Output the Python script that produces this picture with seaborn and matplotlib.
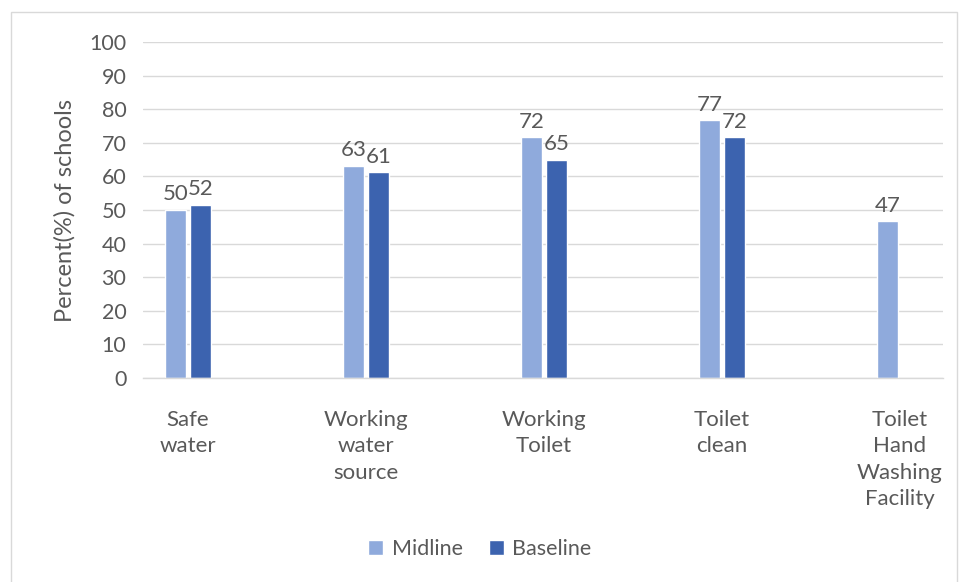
import matplotlib
matplotlib.use("Agg")
import matplotlib.pyplot as plt
import seaborn as sns
import pandas as pd
import numpy as np
from matplotlib.patches import Rectangle

categories = ["Safe\nwater", "Working\nwater\nsource", "Working\nToilet", "Toilet\nclean", "Toilet\nHand\nWashing\nFacility"]
midline = [50.0, 63.2, 71.6, 76.7, 46.6]
baseline = [51.6, 61.2, 65.0, 71.7, np.nan]
series = ["Midline", "Baseline"]
colors = ["#8FAADC", "#3C63AF"]

df = pd.DataFrame({
    "cat": categories * 2,
    "val": midline + baseline,
    "series": ["Midline"] * 5 + ["Baseline"] * 5,
})

sns.set_theme(style="white")
plt.rcParams["font.family"] = ["Lato", "DejaVu Sans"]
txt = "#595959"

fig = plt.figure(figsize=(9.6, 5.82), dpi=100)
ax = fig.add_axes([0.149, 0.3505, 0.833, 0.5773])

sns.barplot(data=df, x="cat", y="val", hue="series", order=categories,
            hue_order=series, palette=colors, width=0.28, gap=0.18,
            errorbar=None, ax=ax, legend=True, saturation=1)

for cont in ax.containers:
    labels = ["" if np.isnan(v) else f"{v:.0f}" for v in cont.datavalues]
    ax.bar_label(cont, labels=labels, padding=4, fontsize=16, color=txt)

ax.set_ylim(0, 100)
ax.set_xlim(-0.253, 4.24)
ax.set_yticks(range(0, 101, 10))
ax.yaxis.grid(True, color="#D9D9D9", linewidth=1)
ax.set_axisbelow(True)
for s in ["top", "right", "left"]:
    ax.spines[s].set_visible(False)
ax.spines["bottom"].set_color("#D9D9D9")
ax.spines["bottom"].set_linewidth(1)
ax.tick_params(axis="both", length=0, colors=txt)
ax.tick_params(axis="x", pad=23, labelsize=16)
ax.tick_params(axis="y", pad=12, labelsize=15.5)
for lbl in ax.get_xticklabels():
    lbl.set_linespacing(1.4)
ax.set_xlabel("")
ax.set_ylabel("Percent(%) of schools", fontsize=17, color=txt, labelpad=10)

h, l = ax.get_legend_handles_labels()
ax.get_legend().remove()
fig.legend(h, l, loc="center", bbox_to_anchor=(0.5, 1 - 549 / 582), ncol=2,
           frameon=False, fontsize=15.5, handlelength=0.7, handleheight=0.7,
           columnspacing=1.2, handletextpad=0.4, labelcolor=txt)

fig.patches.append(Rectangle((11 / 960, -0.01), 946 / 960, 1 - 12 / 582 + 0.01,
                             transform=fig.transFigure, fill=False,
                             edgecolor="#D9D9D9", linewidth=1))

fig.savefig("out.png", dpi=100)
